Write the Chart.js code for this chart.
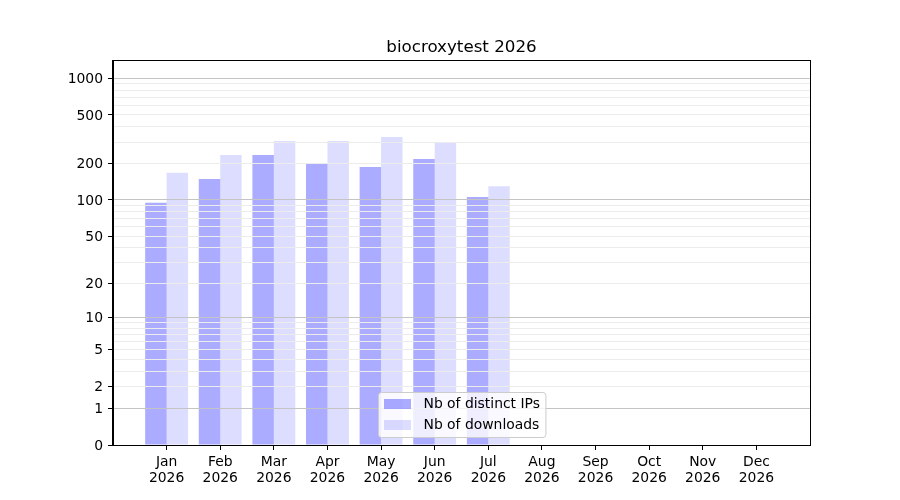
<!DOCTYPE html>
<html>
<head>
<meta charset="utf-8">
<script src="https://cdn.jsdelivr.net/npm/chart.js@4/dist/chart.umd.min.js"></script>
<style>
	html, body { margin: 0; padding: 0; background: #fff; }
	#wrap { width: 900px; height: 500px; position: relative; }
</style>
</head>
<body>
<div id="wrap"><canvas id="chart"></canvas></div>
<script>
// data
var months = ['Jan', 'Feb', 'Mar', 'Apr', 'May', 'Jun', 'Jul', 'Aug', 'Sep', 'Oct', 'Nov', 'Dec'];
var year = '2026';
var distinctIps = [95, 149, 235, 202, 187, 218, 106];
var downloads = [168, 235, 306, 306, 330, 295, 130];
var labelledTicks = [0, 1, 2, 5, 10, 20, 50, 100, 200, 500, 1000];
var majorTicks = [1, 10, 100, 1000];
var minorTicks = [2, 3, 4, 5, 6, 7, 8, 9, 20, 30, 40, 50, 60, 70, 80, 90, 200, 300, 400, 500, 600, 700, 800, 900];
var yMax = 1410;

var FONT = "'DejaVu Sans', sans-serif";

function f(v) {
	return Math.log10(1 + v);
}

// y scale: log10(1 + x), like the picture
class Log1pScale extends Chart.Scale {
	determineDataLimits() {
		var mm = this.getMinMax(true);
		this.min = this.options.min != null ? this.options.min : mm.min;
		this.max = this.options.max != null ? this.options.max : mm.max;
	}
	buildTicks() {
		var all = [0].concat(majorTicks, minorTicks).sort(function (a, b) { return a - b; });
		return all.map(function (v) { return { value: v }; });
	}
	getLabelForValue(v) {
		return String(v);
	}
	configure() {
		super.configure();
		this._lo = f(this.min);
		this._hi = f(this.max);
	}
	getPixelForValue(v) {
		if (v == null || isNaN(v)) return NaN;
		return this.getPixelForDecimal((f(v) - this._lo) / (this._hi - this._lo));
	}
	getValueForPixel(p) {
		var d = this.getDecimalForPixel(p);
		return Math.pow(10, this._lo + d * (this._hi - this._lo)) - 1;
	}
}
Log1pScale.id = 'log1p';
Log1pScale.defaults = {};
Chart.register(Log1pScale);

function toPoints(arr) {
	return arr.map(function (v, i) { return { x: i, y: v }; });
}

var framePlugin = {
	id: 'frame',
	afterDraw: function (chart) {
		var ctx = chart.ctx;
		var a = chart.chartArea;
		ctx.save();

		// axes box
		ctx.strokeStyle = '#000';
		ctx.lineWidth = 1;
		ctx.strokeRect(Math.round(a.left) - 0.5, Math.round(a.top) + 0.5, Math.round(a.right - a.left) + 1, Math.round(a.bottom - a.top));

		// title
		ctx.fillStyle = '#000';
		ctx.font = '16.7px ' + FONT;
		ctx.textAlign = 'center';
		ctx.textBaseline = 'alphabetic';
		ctx.fillText('biocroxytest ' + year, (a.left + a.right) / 2, a.top - 8.5);

		// legend, lower center inside the axes
		ctx.font = '13.9px ' + FONT;
		var sets = chart.data.datasets;
		var textW = 0;
		sets.forEach(function (ds) { textW = Math.max(textW, ctx.measureText(ds.label).width); });
		var boxW = 6 + 27 + 12 + textW + 6;
		var boxH = 45;
		var bx = Math.round((a.left + a.right) / 2 - boxW / 2) + 0.5;
		var by = Math.round(a.bottom - 8 - boxH) + 0.5;
		ctx.beginPath();
		ctx.roundRect(bx, by, boxW, boxH, 3);
		ctx.fillStyle = 'rgba(255,255,255,0.8)';
		ctx.fill();
		ctx.strokeStyle = '#cccccc';
		ctx.stroke();
		ctx.textAlign = 'left';
		ctx.textBaseline = 'middle';
		sets.forEach(function (ds, i) {
			var ry = by + 6.5 + i * 21;
			ctx.fillStyle = ds.backgroundColor;
			ctx.fillRect(bx + 5.5, ry, 27, 10);
			ctx.fillStyle = '#000';
			ctx.fillText(ds.label, bx + 45, ry + 5.5);
		});
		ctx.restore();
	}
};

new Chart(document.getElementById('chart').getContext('2d'), {
	type: 'bar',
	data: {
		datasets: [{
			label: 'Nb of distinct IPs',
			data: toPoints(distinctIps),
			backgroundColor: 'rgba(0,0,255,0.33)',
			categoryPercentage: 0.8,
			barPercentage: 1.0
		}, {
			label: 'Nb of downloads',
			data: toPoints(downloads),
			backgroundColor: 'rgba(0,0,255,0.133)',
			categoryPercentage: 0.8,
			barPercentage: 1.0
		}]
	},
	options: {
		responsive: true,
		maintainAspectRatio: false,
		animation: false,
		layout: { padding: { top: 60, right: 90, bottom: 0, left: 0 } },
		plugins: {
			legend: { display: false },
			title: { display: false },
			tooltip: { enabled: false }
		},
		scales: {
			x: {
				type: 'linear',
				min: -1,
				max: 12,
				offset: false,
				afterBuildTicks: function (scale) {
					scale.ticks = months.map(function (m, i) { return { value: i }; });
				},
				afterFit: function (scale) { scale.height = 55; },
				grid: {
					offset: false,
					drawOnChartArea: false,
					drawTicks: true,
					tickLength: 5,
					tickColor: '#000',
					tickWidth: 1
				},
				border: { display: true, color: '#000', width: 1 },
				ticks: {
					autoSkip: false,
					maxRotation: 0,
					padding: 4.5,
					color: '#000',
					font: { family: FONT, size: 13.9, lineHeight: 1.15 },
					callback: function (v) { return [months[v], year]; }
				}
			},
			y: {
				type: 'log1p',
				min: 0,
				max: yMax,
				afterFit: function (scale) { scale.width = 113; },
				grid: {
					z: 1,
					drawTicks: true,
					tickLength: 5,
					tickWidth: 1,
					lineWidth: 1,
					color: function (c) {
						if (!c.tick || c.tick.value === 0) return 'rgba(0,0,0,0)';
						return majorTicks.indexOf(c.tick.value) >= 0 ? '#c4c4c4' : '#ececec';
					},
					tickColor: function (c) {
						if (!c.tick) return 'rgba(0,0,0,0)';
						return labelledTicks.indexOf(c.tick.value) >= 0 ? '#000' : 'rgba(0,0,0,0)';
					}
				},
				border: { display: true, color: '#000', width: 1, z: 1 },
				ticks: {
					autoSkip: false,
					padding: 5,
					labelOffset: 1,
					color: '#000',
					font: { family: FONT, size: 13.9 },
					callback: function (v) {
						return labelledTicks.indexOf(v) >= 0 ? String(v) : '';
					}
				}
			}
		}
	},
	plugins: [framePlugin]
});
</script>
</body>
</html>
